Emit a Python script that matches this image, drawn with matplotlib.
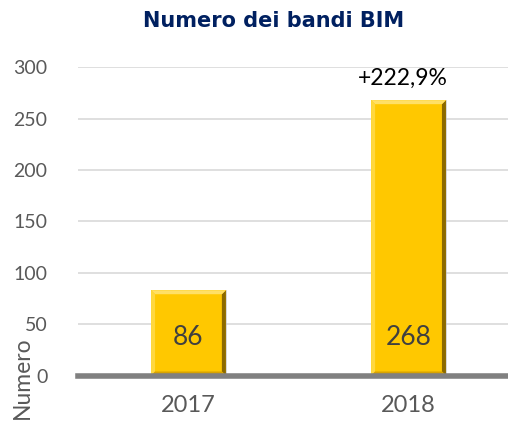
import matplotlib
matplotlib.use("Agg")
import matplotlib.pyplot as plt
from matplotlib.patches import Polygon

categories = ["2017", "2018"]
values = [83, 268]
value_labels = ["86", "268"]
growth_label = "+222,9%"
title = "Numero dei bandi BIM"
ylabel = "Numero"
yticks = [0, 50, 100, 150, 200, 250, 300]

W, H = 508, 423
fig = plt.figure(figsize=(W / 100, H / 100), dpi=100)
ax = fig.add_axes([78 / W, (H - 375.5) / H, (W - 78) / W, (375.5 - 67.3) / H])

font = "Lato"
gold = "#FFC800"

x = list(range(len(categories)))
bars = ax.bar(x, values, width=0.34, color=gold, zorder=3, linewidth=0)

ax.set_xlim(-0.502, 1.452)
ax.set_ylim(0, 300)

# bevel effect for each bar, derived from bar geometry
px_x = 1 / 220.0
px_y = 1 / 1.027
for b in bars:
    x0, w, h = b.get_x(), b.get_width(), b.get_height()
    x1 = x0 + w
    dx, dy = 4 * px_x, 4 * px_y
    ax.add_patch(Polygon([(x1 - dx, dy), (x1, 0), (x1, h), (x1 - dx, h - dy)],
                         closed=True, color="#8C6A00", zorder=4, lw=0))
    ax.add_patch(Polygon([(x0, h), (x1, h), (x1 - dx, h - dy), (x0 + dx, h - dy)],
                         closed=True, color="#FFE066", zorder=4, lw=0))
    ax.add_patch(Polygon([(x0, 0), (x0 + dx, dy), (x0 + dx, h - dy), (x0, h)],
                         closed=True, color="#FFD83F", zorder=4, lw=0))
    ax.add_patch(Polygon([(x0, 0), (x1, 0), (x1 - dx, dy), (x0 + dx, dy)],
                         closed=True, color="#D9A300", zorder=4, lw=0))
    ax.add_patch(Polygon([(x1, 0), (x1 + 1.5 * px_x, 0), (x1 + 1.5 * px_x, h), (x1, h)],
                         closed=True, color="#BFBFBF", zorder=2, lw=0, alpha=0.6))

for xi, lab in zip(x, value_labels):
    ax.text(xi, 37, lab, ha="center", va="center", fontsize=19,
            color="#404040", family=font, zorder=5)

ax.text(x[1] - 0.025, 289, growth_label, ha="center", va="center", fontsize=16.5,
        color="black", family=font, zorder=5)

ax.set_yticks(yticks)
ax.set_yticklabels([str(t) for t in yticks], fontsize=14, color="#595959", family=font)
ax.set_xticks(x)
ax.set_xticklabels(categories, fontsize=17, color="#595959", family=font)
ax.tick_params(axis="y", length=0, pad=22)
ax.tick_params(axis="x", length=0, pad=14)
ax.grid(axis="y", color="#D9D9D9", lw=1.2, zorder=0)
ax.set_axisbelow(True)
for s in ax.spines.values():
    s.set_visible(False)
ax.axhline(0, color="#808080", lw=4, zorder=6, clip_on=False)

fig.text(22 / W, 1 - 378 / H, ylabel, rotation=90, ha="center", va="center",
         fontsize=16.5, color="#595959", family=font)
fig.text(273.5 / W, 1 - 21 / H, title, ha="center", va="center", fontsize=15,
         fontweight="bold", color="#002060", family="DejaVu Sans")

fig.savefig("out.png", dpi=100)
